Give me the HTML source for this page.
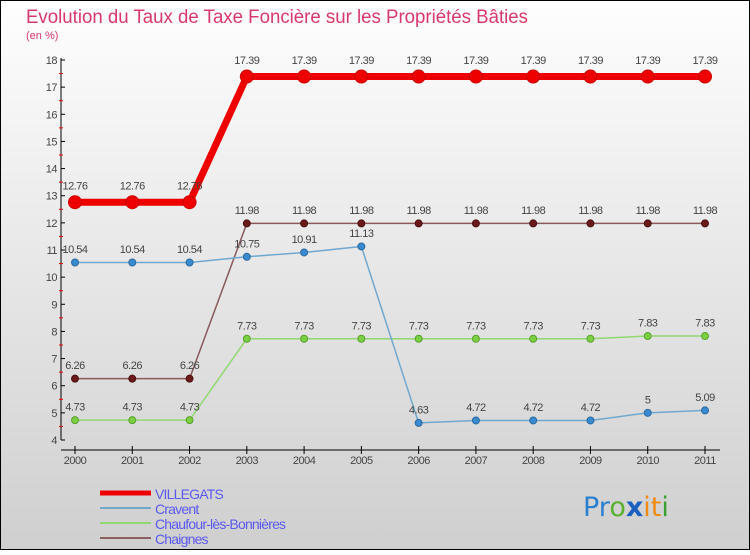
<!DOCTYPE html>
<html><head><meta charset="utf-8"><style>
body{margin:0;width:750px;height:550px;overflow:hidden;font-family:"Liberation Sans",sans-serif}
</style></head><body>
<svg id="c" width="750" height="550" xmlns="http://www.w3.org/2000/svg">
<defs><linearGradient id="bg" x1="0" y1="0" x2="0" y2="1"><stop offset="0" stop-color="#fefefe"/><stop offset="1" stop-color="#cfcfcf"/></linearGradient></defs>
<rect x="0.5" y="0.5" width="749" height="549" fill="url(#bg)" stroke="#000"/>
<text x="26" y="23" font-size="19" fill="#d9386a" textLength="502" lengthAdjust="spacingAndGlyphs">Evolution du Taux de Taxe Foncière sur les Propriétés Bâties</text>
<text x="26" y="39" font-size="11" fill="#d9386a">(en %)</text>
<g id="axes"></g><g id="series"></g><g id="legend"></g>
<text x="583" y="516" font-size="27" font-family="'DejaVu Sans',sans-serif"><tspan fill="#2a7fd0">Pr</tspan><tspan fill="#5ab030">o</tspan><tspan fill="#1b5fc0" font-weight="bold">x</tspan><tspan fill="#f08a10">it</tspan><tspan fill="#3aa030">i</tspan></text>
</svg>
<script>
const years=["2000","2001","2002","2003","2004","2005","2006","2007","2008","2009","2010","2011"];
const yTicks=[4,5,6,7,8,9,10,11,12,13,14,15,16,17,18];
const villegats=[12.76,12.76,12.76,17.39,17.39,17.39,17.39,17.39,17.39,17.39,17.39,17.39];
const cravent=[10.54,10.54,10.54,10.75,10.91,11.13,4.63,4.72,4.72,4.72,5,5.09];
const chaufour=[4.73,4.73,4.73,7.73,7.73,7.73,7.73,7.73,7.73,7.73,7.83,7.83];
const chaignes=[6.26,6.26,6.26,11.98,11.98,11.98,11.98,11.98,11.98,11.98,11.98,11.98];
const NS="http://www.w3.org/2000/svg";
const X=i=>75+i*(630/11);
const Y=v=>440-(v-4)*(380/14);
function mk(tag,attrs,parent){const e=document.createElementNS(NS,tag);for(const k in attrs)e.setAttribute(k,attrs[k]);parent.appendChild(e);return e;}
const ax=document.getElementById('axes');
let yl=mk('line',{x1:61,y1:58,x2:61,y2:440,stroke:'#000','stroke-width':1},ax);


let xl=mk('line',{x1:61,y1:450,x2:720,y2:450,stroke:'#000','stroke-width':1},ax);


yTicks.forEach(v=>{
 mk('line',{x1:61,y1:Y(v),x2:65,y2:Y(v),stroke:'#000'},ax);
 if(v<18) mk('line',{x1:59,y1:Y(v+0.5),x2:63,y2:Y(v+0.5),stroke:'#e00'},ax);
 const t=mk('text',{x:57,y:Y(v)+4,'font-size':11,'text-anchor':'end',fill:'#444','letter-spacing':'-0.5'},ax);
 t.textContent=v;
 
 
});
years.forEach((y,i)=>{
 mk('line',{x1:X(i),y1:446,x2:X(i),y2:454,stroke:'#000'},ax);
 const t=mk('text',{x:X(i),y:464,'font-size':11,'text-anchor':'middle',fill:'#444','letter-spacing':'-0.5'},ax);
 t.textContent=y;
 
 
});
const sg=document.getElementById('series');
function series(name,vals,color,w,r,dot,dotStroke){
 const g=mk('g',{},sg);
 
 
 const p=mk('polyline',{points:vals.map((v,i)=>X(i)+','+Y(v)).join(' '),fill:'none',stroke:color,'stroke-width':w},g);
 
 
 vals.forEach((v,i)=>{
  const c=mk('circle',{cx:X(i),cy:Y(v),r:r,fill:dot,stroke:dotStroke,'stroke-width':1},g);
  
  
  const t=mk('text',{x:X(i),y:Y(v)-(r+6),'font-size':11,'text-anchor':'middle',fill:'#444','letter-spacing':'-0.5'},g);
  t.textContent=v;
  
  
 });
}
series('chaignes',chaignes,'#8a5a5a',1.5,3.5,'#6a1a1a','#4a1010');
series('chaufour',chaufour,'#90d870',1.5,3.5,'#7ad040','#5aa030');
series('cravent',cravent,'#70a8d0',1.5,3.5,'#3a8ad0','#2a6aa0');
series('villegats',villegats,'#ee0000',7,6.5,'#ee0000','#cc0000');
const lg=document.getElementById('legend');
const items=[["VILLEGATS","#ee0000",5],["Cravent","#70a8c8",2],["Chaufour-lès-Bonnières","#90d870",2],["Chaignes","#8a6060",2]];
items.forEach((it,i)=>{
 const y=493+i*15;
 const g=mk('g',{},lg);
 
 
 mk('line',{x1:100,y1:y,x2:151,y2:y,stroke:it[1],'stroke-width':it[2]},g);
 const t=mk('text',{x:155,y:y+6,'font-size':14,fill:'#5a5aee','letter-spacing':'-0.8'},g);
 t.textContent=it[0];
});
</script>
</body></html>
